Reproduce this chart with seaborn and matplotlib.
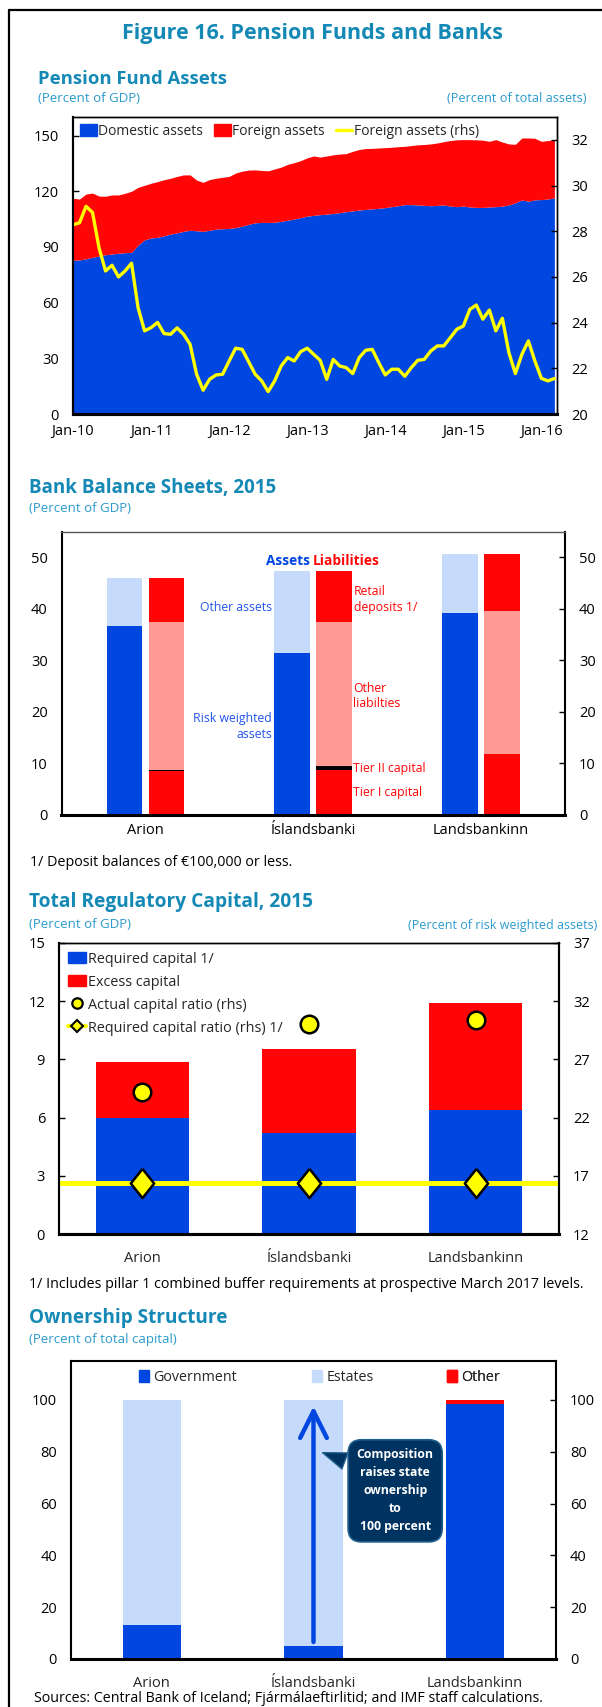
import numpy as np
import matplotlib
matplotlib.use("Agg")
import matplotlib.pyplot as plt
import seaborn as sns
from matplotlib.patches import Patch
from matplotlib.lines import Line2D

# =====================================
# Data
# =====================================

# Pension fund assets, monthly Jan-10 .. Mar-16
month_labels = ["Jan-10", "Jan-11", "Jan-12", "Jan-13", "Jan-14", "Jan-15", "Jan-16"]

domestic_assets = [
    82.9, 83.0, 83.6, 84.4, 85.1, 85.8, 86.2, 86.6, 86.9, 87.1,
    91.0, 93.8, 94.8, 95.2, 96.0, 96.9, 97.6, 98.4, 99.0, 98.7,
    98.4, 99.0, 99.6, 99.8, 100.0, 100.4, 101.2, 102.2, 103.0, 103.2,
    103.2, 103.3, 103.8, 104.4, 105.0, 105.8, 106.6, 107.0, 107.4, 107.7,
    108.0, 108.5, 109.0, 109.4, 109.9, 110.2, 110.5, 110.8, 111.2, 111.7,
    112.2, 112.8, 112.8, 112.6, 112.4, 112.2, 112.4, 112.6, 112.0, 111.7,
    112.0, 111.5, 111.3, 111.3, 111.5, 111.7, 112.0, 112.6, 113.8, 115.3,
    114.6, 115.4, 115.5, 115.8, 116.4,
]

total_assets = [
    116.2, 115.8, 118.5, 119.0, 117.4, 117.3, 118.0, 118.0, 118.9, 120.0,
    122.1, 123.2, 124.3, 125.2, 126.2, 127.0, 128.0, 128.8, 128.8, 126.0,
    124.8, 126.3, 127.0, 127.5, 128.0, 129.8, 130.8, 131.4, 131.5, 131.2,
    131.0, 132.0, 133.0, 134.5, 135.4, 136.5, 138.0, 139.0, 138.4, 139.0,
    139.6, 140.0, 140.3, 141.5, 142.5, 143.0, 143.1, 143.3, 143.5, 143.7,
    144.0, 144.2, 144.6, 145.0, 145.2, 145.5, 146.0, 146.7, 147.3, 147.7,
    147.8, 147.8, 147.7, 147.5, 146.9, 147.8, 146.5, 145.5, 145.3, 148.7,
    148.7, 148.5, 146.9, 147.3, 147.8,
]

foreign_share = [
    28.28, 28.37, 29.09, 28.82, 27.28, 26.26, 26.51, 26.00, 26.26, 26.60,
    24.66, 23.64, 23.78, 24.01, 23.52, 23.49, 23.77, 23.49, 23.05, 21.74,
    21.04, 21.52, 21.71, 21.74, 22.32, 22.88, 22.83, 22.29, 21.74, 21.45,
    20.98, 21.45, 22.10, 22.47, 22.32, 22.73, 22.88, 22.61, 22.35, 21.52,
    22.39, 22.10, 22.03, 21.77, 22.47, 22.79, 22.83, 22.25, 21.71, 21.96,
    21.96, 21.65, 22.03, 22.35, 22.39, 22.76, 22.98, 22.98, 23.34, 23.71,
    23.85, 24.58, 24.77, 24.15, 24.55, 23.64, 24.19, 22.69, 21.77, 22.61,
    23.20, 22.32, 21.56, 21.45, 21.55,
]

banks = ["Arion", "Íslandsbanki", "Landsbankinn"]

# Bank balance sheets, 2015 (percent of GDP)
risk_weighted = [36.6, 31.5, 39.1]
other_assets = [9.3, 15.8, 11.6]
tier1_capital = [8.5, 8.8, 11.75]
tier2_capital = [0.3, 0.7, 0.15]
other_liabilities = [28.6, 28.0, 27.6]
retail_deposits = [8.5, 9.8, 11.2]

# Total regulatory capital, 2015
required_capital = [6.0, 5.2, 6.4]
excess_capital = [2.85, 4.35, 5.5]
actual_ratio = [24.2, 30.0, 30.4]
required_ratio = [16.4, 16.4, 16.4]

# Ownership structure
owner_labels = ["Government", "Estates", "Other"]
government = [13.0, 5.0, 98.5]
estates = [87.0, 95.0, 0.0]
other_owner = [0.0, 0.0, 1.5]

# =====================================
# Style
# =====================================

BLUE = "#0046E0"
LIGHT_BLUE = "#C6DAFB"
RED = "#FF0505"
PINK = "#FF9A94"
YELLOW = "#FFFF00"
HEAD = "#1589B5"
SUB = "#2A9BCC"
NAVY = "#00335F"
TICK = 10.5

sns.set_theme(style="white")
plt.rcParams["font.family"] = ["Open Sans", "DejaVu Sans"]
plt.rcParams["axes.unicode_minus"] = False

W, H = 602, 1707
fig = plt.figure(figsize=(W / 100, H / 100), dpi=100)


def px_rect(left, top, right, bottom):
    return [left / W, 1 - bottom / H, (right - left) / W, (bottom - top) / H]


def px_text(x, y, s, **kw):
    fig.text(x / W, 1 - y / H, s, **kw)


def style_axes(ax, widths=(1.5, 1.0, 1.0, 2.2), top_color="black"):
    for name, lw in zip(["left", "top", "right", "bottom"], widths):
        ax.spines[name].set_visible(True)
        ax.spines[name].set_linewidth(lw)
        ax.spines[name].set_color("black")
    ax.spines["top"].set_color(top_color)
    ax.tick_params(axis="both", labelsize=TICK, colors="black", direction="in",
                   length=4, width=1)
    ax.tick_params(axis="y", pad=10)
    ax.grid(False)


# frame lines of the page
fig.add_artist(Line2D([9 / W, 9 / W], [0, 1 - 10 / H], color="black", lw=1.6))
fig.add_artist(Line2D([9 / W, 1], [1 - 10 / H, 1 - 10 / H], color="black", lw=1.6))

px_text(312, 33, "Figure 16. Pension Funds and Banks", ha="center", va="center",
        fontsize=15.5, fontweight="bold", color=HEAD)

# =====================================
# 1. Pension Fund Assets
# =====================================

px_text(38, 79, "Pension Fund Assets", ha="left", va="center", fontsize=13.3,
        fontweight="bold", color=HEAD)
px_text(38, 99, "(Percent of GDP)", ha="left", va="center", fontsize=9.5, color=SUB)
px_text(587, 99, "(Percent of total assets)", ha="right", va="center", fontsize=9.2, color=SUB)

ax1 = fig.add_axes(px_rect(73, 117, 557, 414))
months = np.arange(len(domestic_assets))
foreign_assets = np.array(total_assets) - np.array(domestic_assets)
ax1.stackplot(months, domestic_assets, foreign_assets, colors=[BLUE, RED], linewidth=0)
ax1.set_ylim(0, 160)
ax1.set_yticks(range(0, 151, 30))
ax1.set_xticks(range(0, 73, 12))
ax1.set_xticklabels(month_labels)
style_axes(ax1, widths=(1.5, 1.0, 1.0, 2.2))
ax1.tick_params(axis="x", pad=7)

ax1r = ax1.twinx()
sns.lineplot(x=months, y=foreign_share, ax=ax1r, color=YELLOW, linewidth=2.4)
ax1r.set_ylim(20, 33)
ax1r.set_yticks(range(20, 33, 2))
ax1r.set_ylabel("")
style_axes(ax1r, widths=(1.5, 1.0, 1.0, 2.2))
ax1.set_xlim(0, 74.4)

ax1r.legend(
    handles=[Patch(color=BLUE), Patch(color=RED), Line2D([], [], color=YELLOW, lw=2.4)],
    labels=["Domestic assets", "Foreign assets", "Foreign assets (rhs)"],
    ncol=3, loc="upper left", bbox_to_anchor=(0.0, 1.0), frameon=False,
    fontsize=10, handlelength=1.2, handleheight=0.9, handletextpad=0.1,
    columnspacing=0.8, borderaxespad=0.3, borderpad=0.2,
)

# =====================================
# 2. Bank Balance Sheets, 2015
# =====================================

px_text(29, 488, "Bank Balance Sheets, 2015", ha="left", va="center", fontsize=13.5,
        fontweight="bold", color=HEAD)
px_text(29, 509, "(Percent of GDP)", ha="left", va="center", fontsize=9.5, color=SUB)

ax2 = fig.add_axes(px_rect(61.5, 531.5, 565, 815))
asset_pos = np.array([1, 5, 9])
liab_pos = asset_pos + 1
bw = 0.85

ax2.bar(asset_pos, risk_weighted, width=bw, color=BLUE, linewidth=0)
ax2.bar(asset_pos, other_assets, bottom=risk_weighted, width=bw, color=LIGHT_BLUE, linewidth=0)

base = np.zeros(3)
for vals, col in [(tier1_capital, RED), (tier2_capital, "black"),
                  (other_liabilities, PINK), (retail_deposits, RED)]:
    ax2.bar(liab_pos, vals, bottom=base, width=bw, color=col, linewidth=0)
    base = base + np.array(vals)

ax2.set_xlim(-0.5, 11.5)
ax2.set_ylim(0, 55)
ax2.set_yticks(range(0, 51, 10))
ax2.set_xticks(np.arange(0.5, 11, 1))
ax2.set_xticklabels(["", "Arion", "", "", "", "Íslandsbanki", "", "", "", "Landsbankinn", ""])
style_axes(ax2, widths=(1.5, 1.0, 1.5, 2.2), top_color="#555555")
ax2.tick_params(axis="y", right=True, labelright=True)
ax2.tick_params(axis="x", pad=6)

ax2.text(4.9, 49.2, "Assets", ha="center", va="center", fontsize=9.8,
         fontweight="bold", color=BLUE)
ax2.text(6.28, 49.2, "Liabilities", ha="center", va="center", fontsize=9.8,
         fontweight="bold", color=RED)
ax2.text(4.52, 40.2, "Other assets", ha="right", va="center", fontsize=8.8, color="#2255EE")
ax2.text(4.52, 17.2, "Risk weighted\nassets", ha="right", va="center", fontsize=8.8,
         color="#2255EE", linespacing=1.25)
ax2.text(6.47, 41.8, "Retail\ndeposits 1/", ha="left", va="center", fontsize=8.8,
         color=RED, linespacing=1.25)
ax2.text(6.45, 23.1, "Other\nliabilties", ha="left", va="center", fontsize=8.8,
         color=RED, linespacing=1.25)
ax2.text(6.44, 9.1, "Tier II capital", ha="left", va="center", fontsize=8.8, color=RED)
ax2.text(6.44, 4.3, "Tier I capital", ha="left", va="center", fontsize=8.8, color=RED)

px_text(30, 862, "1/ Deposit balances of €100,000 or less.", ha="left", va="center",
        fontsize=10.3, color="black")

# =====================================
# 3. Total Regulatory Capital, 2015
# =====================================

px_text(29, 902, "Total Regulatory Capital, 2015", ha="left", va="center", fontsize=13.8,
        fontweight="bold", color=HEAD)
px_text(29, 925, "(Percent of GDP)", ha="left", va="center", fontsize=9.5, color=SUB)
px_text(597, 925, "(Percent of risk weighted assets)", ha="right", va="center",
        fontsize=9.0, color=SUB)

ax3 = fig.add_axes(px_rect(59, 943, 559, 1234))
pos3 = np.arange(len(banks))
ax3.bar(pos3, required_capital, width=0.56, color=BLUE, linewidth=0)
ax3.bar(pos3, excess_capital, bottom=required_capital, width=0.56, color=RED, linewidth=0)
ax3.set_xlim(-0.5, 2.5)
ax3.set_ylim(0, 15)
ax3.set_yticks(range(0, 16, 3))
ax3.set_xticks([0.5, 1.5])
ax3.set_xticklabels([])
ax3.set_xticks(pos3, minor=True)
ax3.set_xticklabels(banks, minor=True)
style_axes(ax3, widths=(1.5, 1.0, 1.5, 2.2))
ax3.tick_params(axis="x", which="minor", length=0, pad=12, labelsize=TICK)

ax3r = ax3.twinx()
ax3r.axhline(required_ratio[0], color=YELLOW, lw=3.6)
diamond = [(0, 1), (0.8, 0), (0, -1), (-0.8, 0), (0, 1)]
sns.scatterplot(x=pos3, y=required_ratio, ax=ax3r, marker=diamond, s=440,
                color=YELLOW, edgecolor="black", linewidth=1.8, zorder=5)
sns.scatterplot(x=pos3, y=actual_ratio, ax=ax3r, marker="o", s=160,
                color=YELLOW, edgecolor="black", linewidth=1.8, zorder=5)
ax3r.set_ylim(12, 37)
ax3r.set_yticks(range(12, 38, 5))
ax3r.set_ylabel("")
style_axes(ax3r, widths=(1.5, 1.0, 1.5, 2.2))
ax3.set_xlim(-0.5, 2.5)

ax3r.legend(
    handles=[
        Patch(color=BLUE),
        Patch(color=RED),
        Line2D([], [], ls="none", marker="o", ms=7.5, mfc=YELLOW, mec="black", mew=1.6),
        Line2D([], [], color=YELLOW, lw=3, marker="D", ms=6, mfc=YELLOW, mec="black", mew=1.5),
    ],
    labels=["Required capital 1/", "Excess capital", "Actual capital ratio (rhs)",
            "Required capital ratio (rhs) 1/"],
    loc="upper left", bbox_to_anchor=(0.0, 1.0), frameon=False, fontsize=10.4,
    handlelength=1.3, handleheight=0.8, handletextpad=0.1, labelspacing=0.55,
    borderaxespad=0.3, borderpad=0.3,
)

px_text(29, 1285, "1/ Includes pillar 1 combined buffer requirements at prospective March 2017 levels.",
        ha="left", va="center", fontsize=10.3, color="black")

# =====================================
# 4. Ownership Structure
# =====================================

px_text(29, 1318, "Ownership Structure", ha="left", va="center", fontsize=13.7,
        fontweight="bold", color=HEAD)
px_text(29, 1340, "(Percent of total capital)", ha="left", va="center", fontsize=9.5, color=SUB)

ax4 = fig.add_axes(px_rect(71, 1361, 556, 1659))
pos4 = np.arange(len(banks))
ax4.bar(pos4, government, width=0.36, color=BLUE, linewidth=0)
ax4.bar(pos4, estates, bottom=government, width=0.36, color=LIGHT_BLUE, linewidth=0)
ax4.bar(pos4, other_owner, bottom=np.array(government) + np.array(estates), width=0.36,
        color=RED, linewidth=0)
ax4.set_xlim(-0.5, 2.5)
ax4.set_ylim(0, 115)
ax4.set_yticks(range(0, 101, 20))
ax4.set_xticks([0.5, 1.5])
ax4.set_xticklabels([])
ax4.set_xticks(pos4, minor=True)
ax4.set_xticklabels(banks, minor=True)
style_axes(ax4, widths=(1.5, 1.5, 1.5, 2.2))
ax4.tick_params(axis="x", which="minor", length=0, pad=12, labelsize=TICK)
ax4.tick_params(axis="y", right=True, labelright=True)

# one small legend per entry, spread across the top like the original
for col, lab, xfrac in zip([BLUE, LIGHT_BLUE, RED], owner_labels, [0.140, 0.497, 0.775]):
    leg = ax4.legend(handles=[Patch(color=col)], labels=[lab], loc="upper left",
                     bbox_to_anchor=(xfrac, 0.971), frameon=False, fontsize=10.3,
                     handlelength=0.7, handleheight=0.9, handletextpad=0.3,
                     borderpad=0, borderaxespad=0)
    ax4.add_artist(leg)

ax4.annotate("", xy=(1, 98.6), xytext=(1, 5.5),
             arrowprops=dict(arrowstyle="->,head_length=1.6,head_width=0.8",
                             color=BLUE, lw=3.2))
ax4.annotate("Composition\nraises state\nownership\nto\n100 percent",
             xy=(1.04, 80), xytext=(1.505, 64.9), ha="center", va="center",
             fontsize=8.8, fontweight="bold", color="white", linespacing=1.5,
             bbox=dict(boxstyle="round,pad=0.7,rounding_size=1.1", fc=NAVY,
                       ec="#1F5F8F", lw=1.2),
             arrowprops=dict(arrowstyle="wedge,tail_width=1.4", fc=NAVY,
                             ec="#1F5F8F", lw=1.0, relpos=(0.0, 0.8)))

px_text(34, 1706, "Sources: Central Bank of Iceland; Fjármálaeftirlitid; and IMF staff calculations.",
        ha="left", va="bottom", fontsize=10.3, color="black")

fig.savefig("out.png", dpi=100)
